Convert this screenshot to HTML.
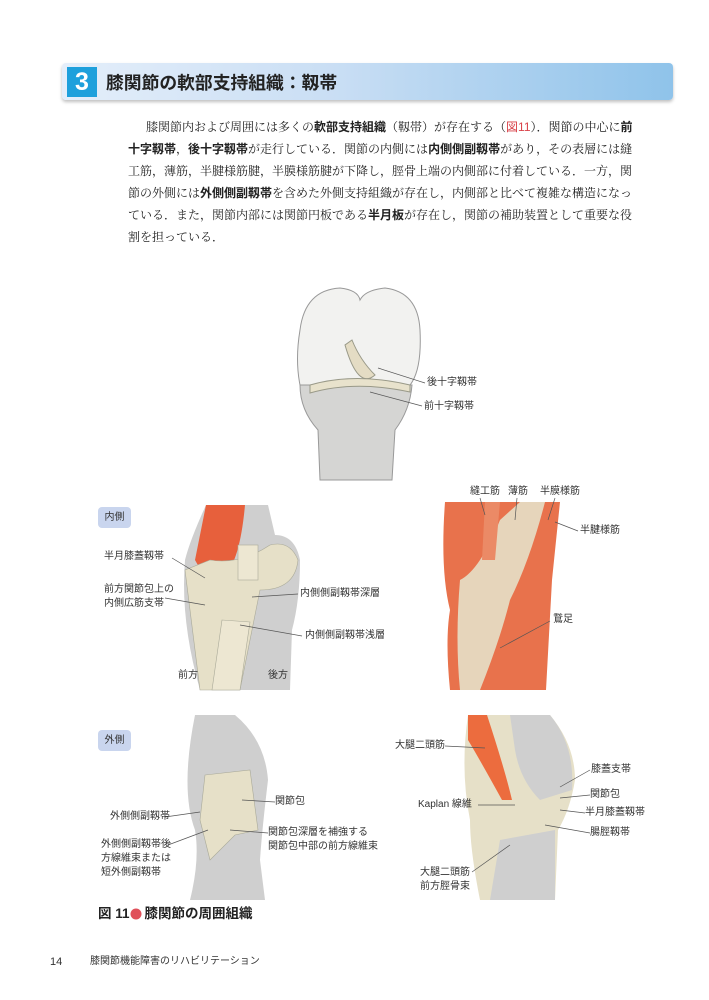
<!DOCTYPE html>
<html><head><meta charset="utf-8"><style>
body{margin:0;background:#fff}
#p{position:relative;width:709px;height:1000px;overflow:hidden;background:#fff;font-family:"Liberation Sans","Noto Sans CJK JP",sans-serif;color:#222}
.hb{position:absolute;left:62px;top:63px;width:611px;height:37px;border-radius:4px;background:linear-gradient(90deg,#e4eefa 0%,#c9def4 45%,#8fc3ea 100%);box-shadow:0 2px 3px rgba(0,0,0,.25)}
.num{position:absolute;left:67px;top:67px;width:30px;height:30px;background:#1ea0dc;color:#fff;font-size:25px;font-weight:bold;text-align:center;line-height:30px}
.ttl{position:absolute;left:106px;top:69px;font-size:17.8px;font-weight:bold;color:#222;line-height:28px}
.tx{position:absolute;left:128px;width:502px;font-family:"Noto Serif CJK SC",serif;font-size:12px;line-height:22px;height:22px;text-align:justify;text-align-last:justify;color:#222;white-space:nowrap}
.tx b{font-family:"Noto Sans CJK JP",sans-serif}
.l{position:absolute;font-size:10px;line-height:14px;color:#333;white-space:nowrap}
.tag{position:absolute;width:33px;height:21px;background:#c9d5ee;border-radius:4px;font-size:10px;line-height:21px;text-align:center;color:#333}
svg{position:absolute;left:0;top:0}
</style></head><body><div id="p">
<div class="hb"></div><div class="num">3</div>
<div class="ttl">膝関節の軟部支持組織：靱帯</div>
<div class="tx" style="top:116px;left:146px;width:484px">膝関節内および周囲には多くの<b>軟部支持組織</b>（靱帯）が存在する（<span style="color:#d9434a;font-family:'Liberation Sans',sans-serif">図11</span>）．関節の中心に<b>前</b></div>
<div class="tx" style="top:138px"><b>十字靱帯</b>，<b>後十字靱帯</b>が走行している．関節の内側には<b>内側側副靱帯</b>があり，その表層には縫</div>
<div class="tx" style="top:160px">工筋，薄筋，半腱様筋腱，半膜様筋腱が下降し，脛骨上端の内側部に付着している．一方，関</div>
<div class="tx" style="top:182px">節の外側には<b>外側側副靱帯</b>を含めた外側支持組織が存在し，内側部と比べて複雑な構造になっ</div>
<div class="tx" style="top:204px">ている．また，関節内部には関節円板である<b>半月板</b>が存在し，関節の補助装置として重要な役</div>
<div class="tx" style="top:226px;text-align-last:left;width:auto">割を担っている．</div>

<svg width="709" height="1000">
<path d="M300 330 Q305 290 340 288 Q358 290 360 300 Q365 290 385 288 Q418 292 420 330 Q422 370 410 385 L300 385 Q295 360 300 330Z" fill="#f2f2f0" stroke="#999" stroke-width="1"/>
<path d="M300 385 L412 385 Q410 410 395 430 L392 480 L320 480 L318 430 Q300 410 300 385Z" fill="#d5d5d3" stroke="#999"/>
<path d="M345 345 Q358 390 375 375 Q360 360 352 340Z" fill="#e4dcc4" stroke="#998"/>
<path d="M310 385 Q355 372 410 385 L410 392 Q355 380 310 393Z" fill="#e8e2cc" stroke="#998"/>
<line x1="378" y1="368" x2="425" y2="383" stroke="#555" stroke-width=".7"/>
<line x1="370" y1="392" x2="422" y2="406" stroke="#555" stroke-width=".7"/>

<path d="M206 505 Q190 540 185 560 Q180 620 200 690 L290 690 L292 630 Q300 600 300 560 Q295 535 275 535 L268 505Z" fill="#cfcfcf"/>
<path d="M206 505 L245 505 Q240 560 225 575 Q205 580 195 560Z" fill="#e7603c"/>
<path d="M185 570 Q190 610 200 690 L240 690 L260 590 Q295 590 298 560 Q290 540 270 545 Q240 565 210 560Z" fill="#e6e0c8" stroke="#aa9" stroke-width=".6"/>
<path d="M222 620 L250 622 L240 690 L212 690Z" fill="#ede7d2" stroke="#aa9" stroke-width=".6"/>
<rect x="238" y="545" width="20" height="35" fill="#ede7d2" stroke="#aa9" stroke-width=".6"/>
<line x1="172" y1="558" x2="205" y2="578" stroke="#555" stroke-width=".7"/>
<line x1="165" y1="598" x2="205" y2="605" stroke="#555" stroke-width=".7"/>
<line x1="252" y1="597" x2="298" y2="594" stroke="#555" stroke-width=".7"/>
<line x1="240" y1="625" x2="302" y2="636" stroke="#555" stroke-width=".7"/>

<path d="M445 502 L560 502 L552 580 L546 690 L450 690 Q445 640 450 610 Q440 570 445 502Z" fill="#e8724c"/>
<path d="M460 580 Q480 570 500 520 L520 502 L545 502 Q530 560 510 600 Q500 640 480 690 L460 690 Q455 640 460 580Z" fill="#e6e0c8" opacity=".9"/>
<path d="M485 502 L500 502 L495 560 L482 560Z" fill="#eb8a66"/>
<line x1="480" y1="498" x2="485" y2="515" stroke="#555" stroke-width=".7"/>
<line x1="517" y1="498" x2="515" y2="520" stroke="#555" stroke-width=".7"/>
<line x1="555" y1="498" x2="548" y2="520" stroke="#555" stroke-width=".7"/>
<line x1="555" y1="522" x2="578" y2="531" stroke="#555" stroke-width=".7"/>
<line x1="500" y1="648" x2="550" y2="621" stroke="#555" stroke-width=".7"/>

<path d="M195 715 L235 715 Q265 740 268 780 Q262 830 260 860 L265 900 L190 900 Q200 860 195 830 Q180 790 195 715Z" fill="#cfcfcf"/>
<path d="M205 775 L250 770 L258 830 L235 835 L210 860 L200 820Z" fill="#e6e0c8" stroke="#aa9" stroke-width=".6"/>
<line x1="165" y1="817" x2="200" y2="812" stroke="#555" stroke-width=".7"/>
<line x1="168" y1="845" x2="208" y2="830" stroke="#555" stroke-width=".7"/>
<line x1="242" y1="800" x2="275" y2="802" stroke="#555" stroke-width=".7"/>
<line x1="230" y1="830" x2="268" y2="833" stroke="#555" stroke-width=".7"/>

<path d="M468 715 L550 715 Q575 745 575 780 Q570 810 558 830 L555 900 L480 900 Q470 850 470 820 Q460 770 468 715Z" fill="#e6e0c8"/>
<path d="M510 715 L550 715 Q575 745 572 790 L540 800 Q520 780 515 750Z" fill="#cfcfcf"/>
<path d="M500 840 L555 830 L555 900 L490 900Z" fill="#cfcfcf"/>
<path d="M468 715 L487 715 Q505 770 512 800 L502 800 Q480 760 468 740Z" fill="#ec6c3e"/>
<line x1="445" y1="746" x2="485" y2="748" stroke="#555" stroke-width=".7"/>
<line x1="478" y1="805" x2="515" y2="805" stroke="#555" stroke-width=".7"/>
<line x1="472" y1="872" x2="510" y2="845" stroke="#555" stroke-width=".7"/>
<line x1="560" y1="787" x2="590" y2="770" stroke="#555" stroke-width=".7"/>
<line x1="560" y1="798" x2="590" y2="795" stroke="#555" stroke-width=".7"/>
<line x1="560" y1="810" x2="585" y2="813" stroke="#555" stroke-width=".7"/>
<line x1="545" y1="825" x2="590" y2="833" stroke="#555" stroke-width=".7"/>
<circle cx="136" cy="914" r="5.5" fill="#e0505a"/>
</svg>

<div class="l" style="left:427px;top:376px">後十字靱帯</div>
<div class="l" style="left:424px;top:400px">前十字靱帯</div>
<div class="tag" style="left:98px;top:507px">内側</div>
<div class="l" style="left:104px;top:550px">半月膝蓋靱帯</div>
<div class="l" style="left:104px;top:583px">前方関節包上の<br>内側広筋支帯</div>
<div class="l" style="left:300px;top:587px">内側側副靱帯深層</div>
<div class="l" style="left:305px;top:629px">内側側副靱帯浅層</div>
<div class="l" style="left:178px;top:669px">前方</div>
<div class="l" style="left:268px;top:669px">後方</div>
<div class="l" style="left:470px;top:485px">縫工筋</div>
<div class="l" style="left:508px;top:485px">薄筋</div>
<div class="l" style="left:540px;top:485px">半膜様筋</div>
<div class="l" style="left:580px;top:524px">半腱様筋</div>
<div class="l" style="left:553px;top:613px">鵞足</div>
<div class="tag" style="left:98px;top:730px">外側</div>
<div class="l" style="left:110px;top:810px">外側側副靱帯</div>
<div class="l" style="left:101px;top:838px">外側側副靱帯後<br>方線維束または<br>短外側副靱帯</div>
<div class="l" style="left:275px;top:795px">関節包</div>
<div class="l" style="left:268px;top:826px">関節包深層を補強する<br>関節包中部の前方線維束</div>
<div class="l" style="left:395px;top:739px">大腿二頭筋</div>
<div class="l" style="left:418px;top:798px">Kaplan 線維</div>
<div class="l" style="left:420px;top:866px">大腿二頭筋<br>前方脛骨束</div>
<div class="l" style="left:591px;top:763px">膝蓋支帯</div>
<div class="l" style="left:590px;top:788px">関節包</div>
<div class="l" style="left:585px;top:806px">半月膝蓋靱帯</div>
<div class="l" style="left:590px;top:826px">腸脛靱帯</div>
<div style="position:absolute;left:98px;top:905px;font-size:13.5px;font-weight:bold;line-height:18px;white-space:nowrap">図 11<span style="display:inline-block;width:15px"></span>膝関節の周囲組織</div>
<div class="l" style="left:50px;top:955px;font-size:11px">14</div>
<div class="l" style="left:90px;top:955px;font-size:10px">膝関節機能障害のリハビリテーション</div>
</div></body></html>
